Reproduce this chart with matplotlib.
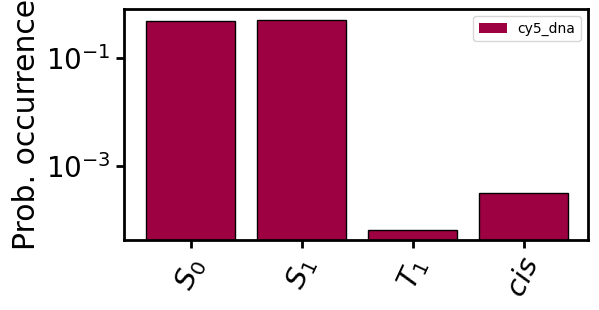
import matplotlib
matplotlib.use("Agg")
import matplotlib.pyplot as plt

categories = ["$S_0$", "$S_1$", "$T_1$", "$cis$"]
values = [0.48, 0.50, 6.5e-5, 3.2e-4]
series_name = "cy5_dna"

fig = plt.figure(figsize=(5.99, 3.10), dpi=100)
ax = fig.add_axes([124/599, 1 - 240/310, (588-124)/599, (240-9)/310])
x = list(range(len(categories)))
bars = ax.bar(x, values, width=0.8, color="#9e0142", edgecolor="black", linewidth=1)
ax.set_yscale("log")
ax.set_ylim(4.3e-5, 0.81)
ax.set_xlim(-0.6, 3.58)
ax.minorticks_off()
ax.set_xticks(x)
ax.set_xticklabels(categories, rotation=65, fontsize=21)
ax.set_yticks([1e-3, 1e-1])
ax.tick_params(axis="y", labelsize=20, width=2, length=6)
ax.tick_params(axis="x", width=2, length=6)
for s in ax.spines.values():
    s.set_linewidth(2)
ax.set_ylabel("Prob. occurrence", fontsize=21.5)
import matplotlib.patches as mpatches
handle = mpatches.Patch(facecolor="#9e0142", edgecolor="none", label=series_name)
ax.legend(handles=[handle], loc="upper right", fontsize=10)
fig.savefig("out.png", dpi=100)
